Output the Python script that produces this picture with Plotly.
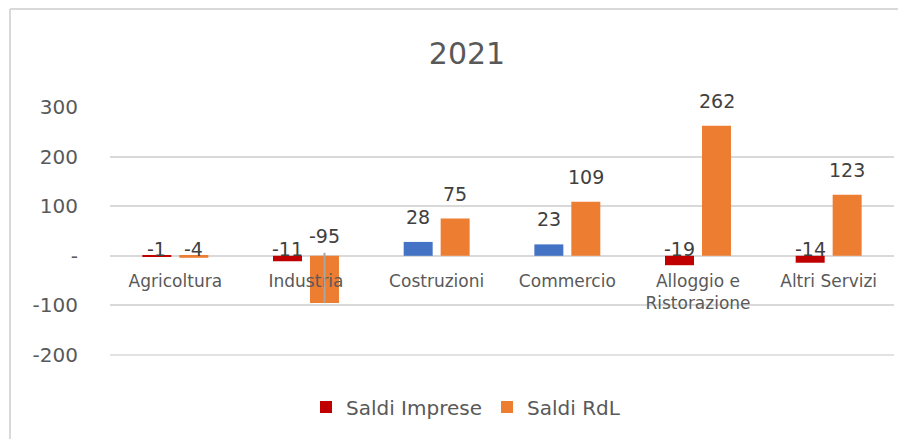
import plotly.graph_objects as go

categories = ["Agricoltura", "Industria", "Costruzioni", "Commercio", "Alloggio e<br>Ristorazione", "Altri Servizi"]
saldi_imprese = [-1, -11, 28, 23, -19, -14]
saldi_rdl = [-4, -95, 75, 109, 262, 123]
y_tickvals = [-200, -100, 0, 100, 200, 300]
y_ticktext = ["-200", "-100", "-", "100", "200", "300"]

RED = "#C00000"
BLUE = "#4472C4"
ORANGE = "#ED7D31"
GRID = "#D9D9D9"
TXT = "#595959"
LBL = "#404040"
FONT = "DejaVu Sans"

imp_colors = [BLUE if v > 0 else RED for v in saldi_imprese]

fig = go.Figure()
fig.add_trace(go.Bar(x=categories, y=saldi_imprese, name="Saldi Imprese",
                     marker=dict(color=imp_colors, line=dict(width=0))))
fig.add_trace(go.Bar(x=categories, y=saldi_rdl, name="Saldi RdL",
                     marker=dict(color=ORANGE, line=dict(width=0))))

BARGAP = 0.434
half_slot_px = 18.5

annotations = []
for series, shift in ((saldi_imprese, -half_slot_px), (saldi_rdl, half_slot_px)):
    for cat, v in zip(categories, series):
        if v >= 0:
            annotations.append(dict(x=cat, y=v, xref="x", yref="y", text=str(v), showarrow=False,
                                    xshift=shift, yshift=25, yanchor="middle",
                                    font=dict(family=FONT, size=19, color=LBL)))
        else:
            ys = 20 if v < -50 else 7
            annotations.append(dict(x=cat, y=0, xref="x", yref="y", text=str(v), showarrow=False,
                                    xshift=shift, yshift=ys, yanchor="middle",
                                    font=dict(family=FONT, size=19, color=LBL)))

W, H = 898, 431
ML, MR, MT, MB = 102, 12, 99, 84
PH = H - MT - MB

fig.update_layout(
    width=W, height=H,
    margin=dict(l=ML, r=MR, t=MT, b=MB, autoexpand=False),
    paper_bgcolor="white", plot_bgcolor="white",
    barmode="group", bargap=BARGAP, bargroupgap=0.216,
    title=dict(text="2021", x=(467 - 8) / W, xanchor="center", y=1 - 45 / H, yanchor="middle",
               font=dict(family=FONT, size=30, color=TXT)),
    font=dict(family=FONT, color=TXT),
    legend=dict(orientation="h", x=(466 - 8 - ML) / (W - ML - MR), xanchor="center",
                y=-52 / PH, yanchor="middle",
                font=dict(family=FONT, size=20, color=TXT), traceorder="normal",
                bgcolor="rgba(0,0,0,0)"),
    xaxis=dict(anchor="free", position=0.4, showgrid=False, showline=False, ticks="",
               tickfont=dict(family=FONT, size=17, color=TXT), ticklabelstandoff=13,
               zeroline=False, automargin=False),
    yaxis=dict(range=[-200, 300], tickvals=y_tickvals, ticktext=y_ticktext,
               showgrid=True, gridcolor=GRID, gridwidth=1.5, zeroline=True,
               zerolinecolor=GRID, zerolinewidth=1.5, showline=False, ticks="",
               tickfont=dict(family=FONT, size=20, color=TXT), ticklabelstandoff=31,
               automargin=False),
    annotations=annotations,
    shapes=[
        dict(type="line", xref="paper", yref="paper", x0=(2 - ML) / 784, x1=(2 - ML) / 784,
             y0=(MT + PH - 1) / PH, y1=-0.5, line=dict(color=GRID, width=2)),
        dict(type="line", xref="paper", yref="paper", x0=(2 - ML) / 784, x1=1.05,
             y0=(MT + PH - 1) / PH, y1=(MT + PH - 1) / PH, line=dict(color=GRID, width=2)),
        dict(type="line", xref="paper", yref="paper", x0=0, x1=1, y0=0, y1=0,
             line=dict(color=GRID, width=1.5)),
        dict(type="line", xref="x", yref="y", x0=1 + (1 - BARGAP) / 4, x1=1 + (1 - BARGAP) / 4,
             y0=6, y1=-95, line=dict(color="#A6A6A6", width=2)),
    ],
)

fig.write_html("out.html")
